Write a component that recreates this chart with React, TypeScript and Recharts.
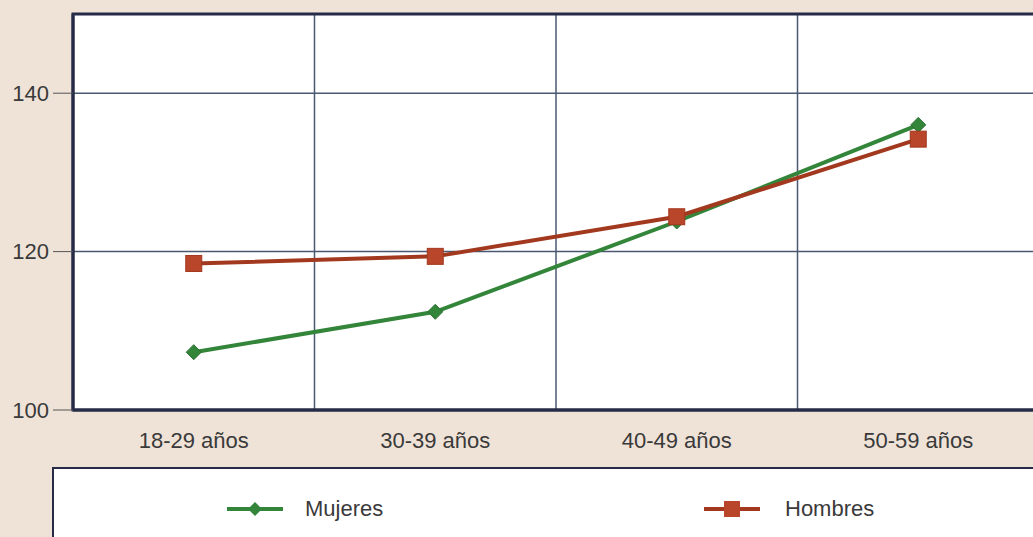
import React from 'react';
import { LineChart, Line, XAxis, YAxis, CartesianGrid, Legend, ReferenceArea } from 'recharts';

const categories = ['18-29 años', '30-39 años', '40-49 años', '50-59 años'];
const mujeres = [107.3, 112.4, 123.8, 136.0];
const hombres = [118.5, 119.4, 124.4, 134.2];
const yTicks = [100, 120, 140];
const yDomain = [100, 150];

const data = categories.map((c, i) => ({ cat: c, Mujeres: mujeres[i], Hombres: hombres[i] }));

const GREEN = '#33853a';
const RED = '#a2391f';
const RED_FILL = '#b9462a';
const NAVY = '#262b48';
const GRID = '#4a5872';
const FONT = '"Liberation Sans", Arial, sans-serif';

const Diamond = (props: any) => {
  const { cx, cy } = props;
  if (cx == null || cy == null) return null;
  const s = 7.5;
  return (
    <path d={`M${cx},${cy - s} L${cx + s},${cy} L${cx},${cy + s} L${cx - s},${cy} Z`} fill={GREEN} stroke="#2b6f31" strokeWidth={1} />
  );
};

const Square = (props: any) => {
  const { cx, cy } = props;
  if (cx == null || cy == null) return null;
  const s = 8;
  return <rect x={cx - s} y={cy - s} width={2 * s} height={2 * s} fill={RED_FILL} stroke={RED} strokeWidth={1} />;
};

const LegendContent = () => (
  <div
    style={{
      position: 'relative',
      width: '100%',
      height: '100%',
      boxSizing: 'border-box',
      background: '#ffffff',
      border: `2px solid ${NAVY}`,
      fontFamily: FONT,
      fontSize: 22,
      color: '#3a3a3a',
    }}
  >
    <div style={{ position: 'absolute', left: 171, top: 27, display: 'flex', alignItems: 'center' }}>
      <svg width={60} height={26}>
        <line x1={2} y1={13} x2={58} y2={13} stroke={GREEN} strokeWidth={4} />
        <path d="M30,6 L37,13 L30,20 L23,13 Z" fill={GREEN} />
      </svg>
      <span style={{ marginLeft: 20 }}>Mujeres</span>
    </div>
    <div style={{ position: 'absolute', left: 648, top: 27, display: 'flex', alignItems: 'center' }}>
      <svg width={60} height={26}>
        <line x1={2} y1={13} x2={58} y2={13} stroke={RED} strokeWidth={4} />
        <rect x={22} y={5} width={16} height={16} fill={RED_FILL} />
      </svg>
      <span style={{ marginLeft: 23 }}>Hombres</span>
    </div>
  </div>
);

export default function App() {
  return (
    <div
      style={{
        position: 'absolute',
        left: 0,
        top: 0,
        width: 1033,
        height: 537,
        overflow: 'hidden',
        background: '#efe3d8',
      }}
    >
      <LineChart width={1060} height={537} data={data} margin={{ top: 14, right: 21, left: 0, bottom: 77 }}>
        <CartesianGrid
          fill="#ffffff"
          stroke={GRID}
          strokeWidth={1.5}
          verticalCoordinatesGenerator={({ offset }: any) =>
            categories.slice(1).map((_, i) => offset.left + ((i + 1) * offset.width) / categories.length)
          }
        />
        <XAxis
          dataKey="cat"
          scale="band"
          axisLine={{ stroke: NAVY, strokeWidth: 3 }}
          tickLine={false}
          tickMargin={16}
          height={50}
          tick={{ fill: '#3a3a3a', fontSize: 22, fontFamily: FONT }}
        />
        <YAxis
          domain={yDomain}
          ticks={yTicks}
          width={73}
          axisLine={{ stroke: NAVY, strokeWidth: 3 }}
          tickLine={{ stroke: '#555' }}
          tickSize={20}
          tickMargin={4}
          tick={{ fill: '#3a3a3a', fontSize: 22, fontFamily: FONT }}
        />
        <ReferenceArea y1={100} y2={150} fill="none" stroke={NAVY} strokeWidth={3} />
        <Line
          dataKey="Mujeres"
          stroke={GREEN}
          strokeWidth={4}
          dot={<Diamond />}
          isAnimationActive={false}
        />
        <Line
          dataKey="Hombres"
          stroke={RED}
          strokeWidth={4}
          dot={<Square />}
          isAnimationActive={false}
        />
        <Legend
          layout="horizontal"
          verticalAlign="middle"
          align="center"
          content={<LegendContent />}
          wrapperStyle={{ position: 'absolute', left: 52, top: 467, width: 1010, height: 100 }}
        />
      </LineChart>
    </div>
  );
}
